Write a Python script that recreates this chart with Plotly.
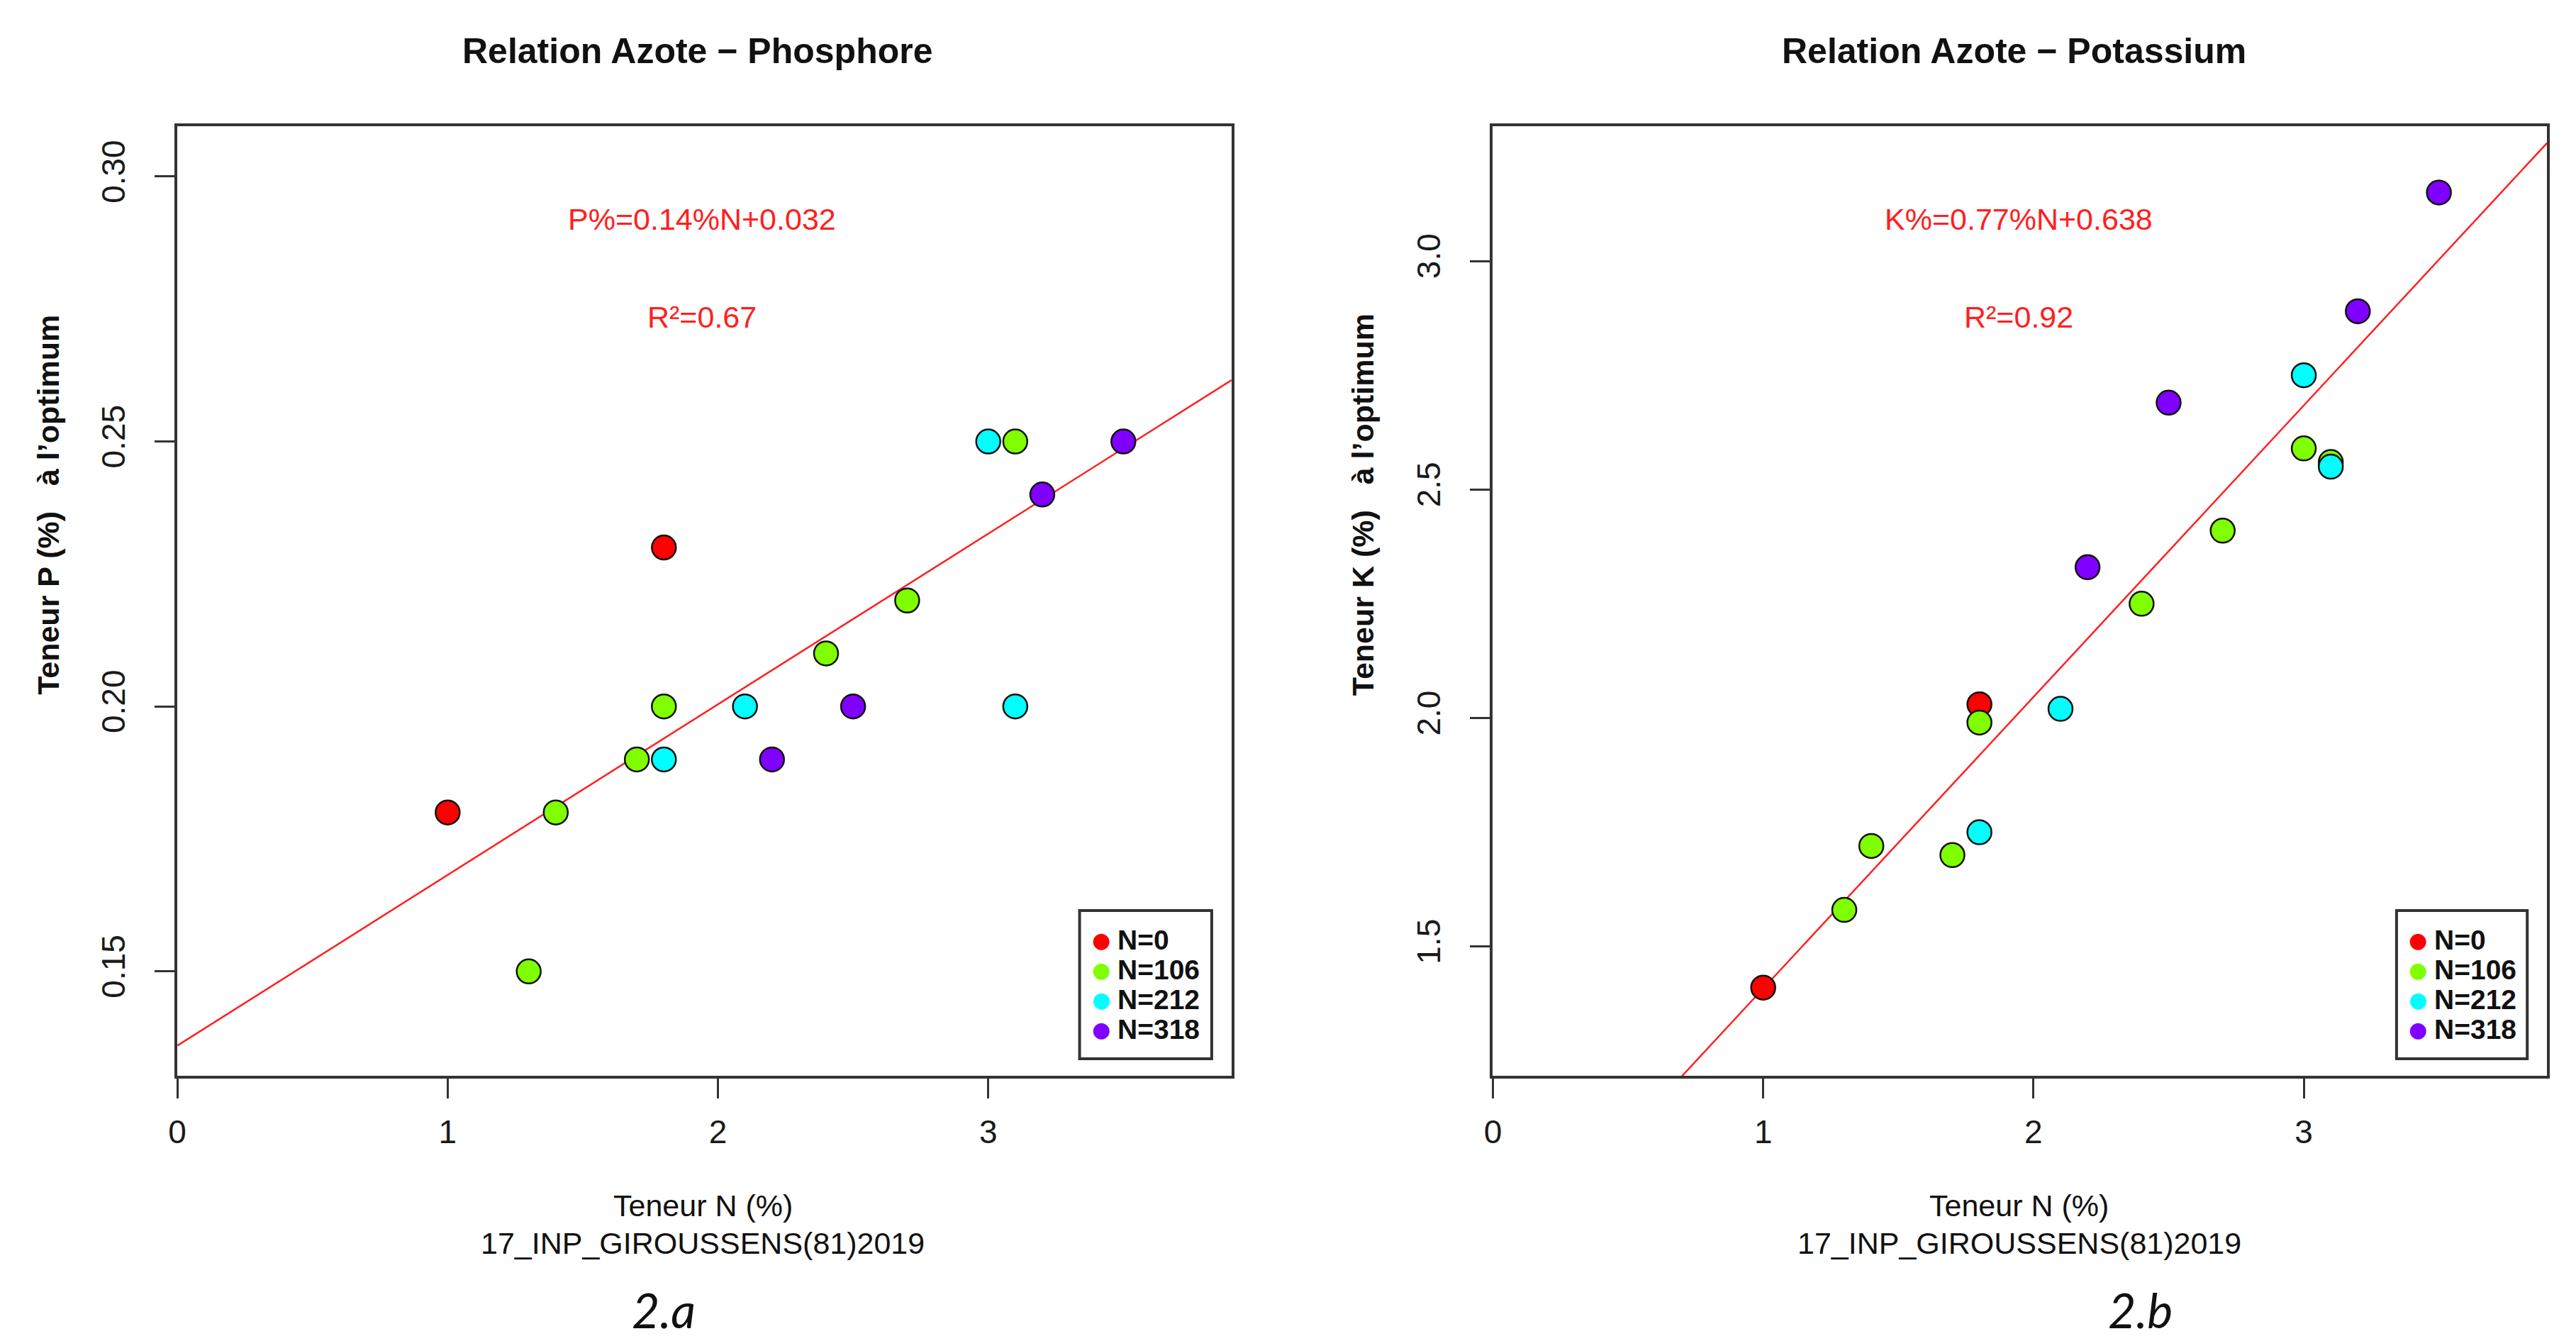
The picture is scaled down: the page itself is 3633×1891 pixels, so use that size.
import plotly.graph_objects as go

# ---------------- data ----------------
groups = ["N=0", "N=106", "N=212", "N=318"]
colors = ["#FF0000", "#80FF00", "#00FFFF", "#8000FF"]

# Relation Azote - Phosphore
p_N = {
    "N=0":   [1.0, 1.8],
    "N=106": [1.3, 1.4, 1.7, 1.8, 2.4, 2.7, 3.1],
    "N=212": [1.8, 2.1, 3.0, 3.1],
    "N=318": [2.2, 2.5, 3.2, 3.5],
}
p_P = {
    "N=0":   [0.18, 0.23],
    "N=106": [0.15, 0.18, 0.19, 0.20, 0.21, 0.22, 0.25],
    "N=212": [0.19, 0.20, 0.25, 0.20],
    "N=318": [0.19, 0.20, 0.24, 0.25],
}
# Relation Azote - Potassium
k_N = {
    "N=0":   [1.0, 1.8],
    "N=106": [1.3, 1.4, 1.7, 1.8, 2.4, 2.7, 3.0, 3.1],
    "N=212": [1.8, 2.1, 3.0, 3.1],
    "N=318": [2.2, 2.5, 3.2, 3.5],
}
k_K = {
    "N=0":   [1.41, 2.03],
    "N=106": [1.58, 1.72, 1.70, 1.99, 2.25, 2.41, 2.59, 2.56],
    "N=212": [1.75, 2.02, 2.75, 2.55],
    "N=318": [2.33, 2.69, 2.89, 3.15],
}
# fitted lines (slope, intercept) as drawn
p_fit = (0.0322, 0.136)
k_fit = (0.638, 0.77)
line_x = [0.0, 3.9]

p_title = "Relation Azote \u2212 Phosphore"
k_title = "Relation Azote \u2212 Potassium"
p_eq, p_r2 = "P%=0.14%N+0.032", "R\u00b2=0.67"
k_eq, k_r2 = "K%=0.77%N+0.638", "R\u00b2=0.92"
p_ylabel = "Teneur P (%)\u00a0\u00a0 \u00e0 l\u2019optimum"
k_ylabel = "Teneur K (%)\u00a0\u00a0 \u00e0 l\u2019optimum"
xlabel = "Teneur N (%)"
site = "17_INP_GIROUSSENS(81)2019"
panels = ["2.a", "2.b"]

# ---------------- layout helpers ----------------
W, H = 3633, 1891
def px(x): return x / W
def py(y): return 1 - y / H

FONT = "Liberation Sans, Arial, Helvetica, sans-serif"
AX = "#333333"

fig = go.Figure()

def add_panel(xs, ys, fit, xa, ya):
    a, b = fit
    fig.add_trace(go.Scatter(
        x=line_x, y=[a * v + b for v in line_x], mode="lines",
        line=dict(color="#FF2020", width=2.5), showlegend=False,
        xaxis=xa, yaxis=ya, hoverinfo="skip"))
    for g, c in zip(groups, colors):
        fig.add_trace(go.Scatter(
            x=xs[g], y=ys[g], mode="markers", name=g, showlegend=False,
            marker=dict(size=34, color=c, line=dict(color="#111111", width=2.5)),
            xaxis=xa, yaxis=ya))

add_panel(p_N, p_P, p_fit, "x", "y")
add_panel(k_N, k_K, k_fit, "x2", "y2")

def axis(**kw):
    d = dict(showline=True, mirror=True, linecolor=AX, linewidth=4,
             ticks="outside", ticklen=28, tickwidth=3, tickcolor=AX,
             showgrid=False, zeroline=False,
             tickfont=dict(family=FONT, size=46, color="#1a1a1a"))
    d.update(kw)
    return d

# horizontal offsets of the two panels (pixels)
L0 = 238   # left panel plot-area left edge
R0 = 2100  # right panel plot-area left edge
PW = 1492  # plot-area width

yb, yt = py(1517), py(178)
fig.update_layout(
    width=W, height=H, autosize=False,
    margin=dict(l=0, r=0, t=0, b=0),
    paper_bgcolor="white", plot_bgcolor="white",
    xaxis=axis(domain=[px(L0), px(L0 + PW)], range=[0, 3.9], tick0=0, dtick=1,
               anchor="y", ticklabelstandoff=8),
    yaxis=axis(domain=[yb, yt], range=[0.1303, 0.3095], tick0=0.15, dtick=0.05,
               tickformat=".2f", tickangle=-90, anchor="x", ticklabelstandoff=24),
    xaxis2=axis(domain=[px(R0), px(R0 + PW)], range=[0, 3.9], tick0=0, dtick=1,
                anchor="y2", ticklabelstandoff=8),
    yaxis2=axis(domain=[yb, yt], range=[1.217, 3.295], tick0=1.5, dtick=0.5,
                tickformat=".1f", tickangle=-90, anchor="x2", ticklabelstandoff=24),
)

ann = []
def text(x, y, s, size, color="#111111", bold=False, italic=False, angle=0,
         xanchor="center", yanchor="middle", family=FONT):
    ann.append(dict(x=px(x), y=py(y), xref="paper", yref="paper",
                    text=("<b>%s</b>" % s) if bold else s, showarrow=False,
                    xanchor=xanchor, yanchor=yanchor, textangle=angle,
                    font=dict(family=family, size=size, color=color,
                              style="italic" if italic else "normal")))

dl = L0 - 247
dr = R0 - 2103
# titles
text(983 + dl, 72, p_title, 50, bold=True)
text(2841 + dr, 72, k_title, 50, bold=True)
# equations
text(990 + dl, 309, p_eq, 43, color="#FF2020")
text(990 + dl, 447, p_r2, 43, color="#FF2020")
text(2847 + dr, 309, k_eq, 43, color="#FF2020")
text(2847 + dr, 447, k_r2, 43, color="#FF2020")
# y labels
text(64 + dl, 712, p_ylabel, 43, bold=True, angle=-90)
text(1919 + dr, 712, k_ylabel, 43, bold=True, angle=-90)
# x labels
for cx in (991 + dl, 2848 + dr):
    text(cx, 1700, xlabel, 43)
    text(cx, 1753, site, 43)
# panel labels
text(935 + dl, 1889, panels[0], 68, italic=True, yanchor="bottom",
     family="Lato, Open Sans, sans-serif")
text(3019 + dr, 1889, panels[1], 68, italic=True, yanchor="bottom",
     family="Lato, Open Sans, sans-serif")

# legends
shapes = []
rows = [1325, 1367, 1409, 1451]
for (bx0, bx1, dotx, txtx) in [(1524 + dl, 1711 + dl, 1555 + dl, 1576 + dl),
                               (3382 + dr, 3567 + dr, 3412 + dr, 3433 + dr)]:
    shapes.append(dict(type="rect", xref="paper", yref="paper",
                       x0=px(bx0), x1=px(bx1), y0=py(1493), y1=py(1284),
                       line=dict(color=AX, width=4), fillcolor="white", layer="above"))
    for g, c, ry in zip(groups, colors, rows):
        text(dotx, ry, "\u25cf", 30, color=c, family="DejaVu Sans")
        text(txtx, ry, g, 39, xanchor="left", bold=True)

fig.update_layout(annotations=ann, shapes=shapes)
fig.write_html(
    "out.html",
    config={"displayModeBar": False},
    post_script="document.body.style.margin='0';document.body.style.overflow='hidden';",
)
